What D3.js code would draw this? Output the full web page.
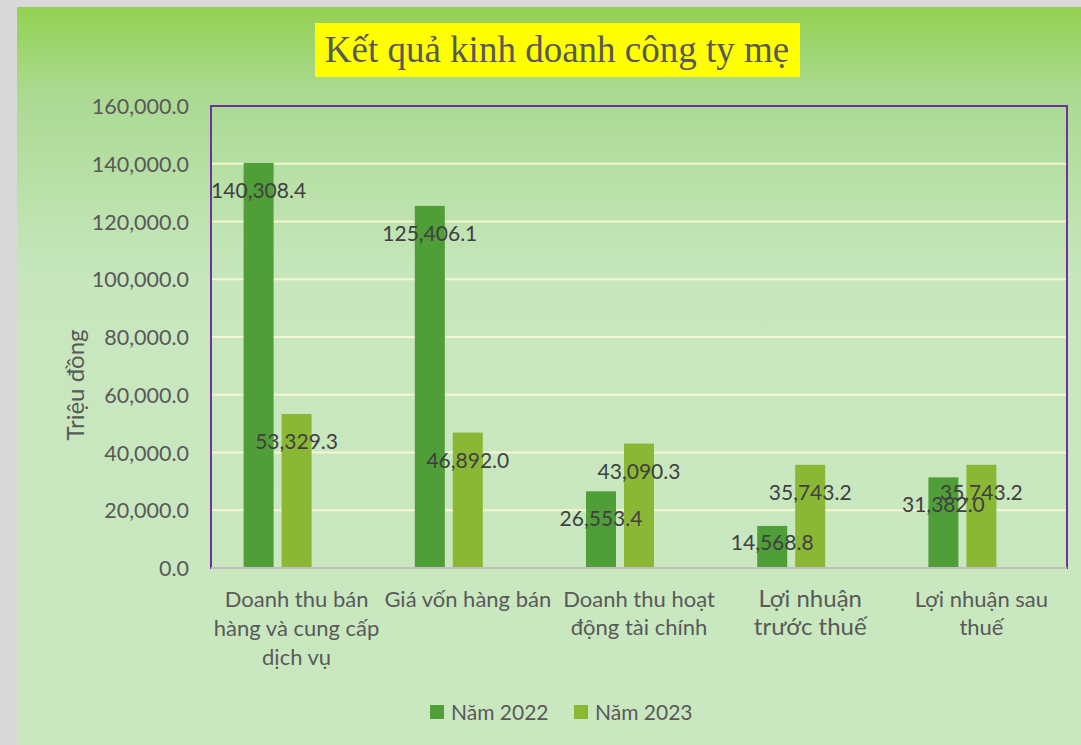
<!DOCTYPE html>
<html>
<head>
<meta charset="utf-8">
<script src="https://cdn.jsdelivr.net/npm/d3@7"></script>
<style>
	body { margin: 0; background: #d9d9d9; }
	text { font-family: Lato, "Noto Sans", sans-serif; }
</style>
</head>
<body>
<div id="chart"></div>
<script>
var categories = [
	"Doanh thu bán\nhàng và cung cấp\ndịch vụ",
	"Giá vốn hàng bán",
	"Doanh thu hoạt\nđộng tài chính",
	"Lợi nhuận\ntrước thuế",
	"Lợi nhuận sau\nthuế"
];
var seriesNames = ["Năm 2022", "Năm 2023"];
var values2022 = [140308.4, 125406.1, 26553.4, 14568.8, 31382.0];
var values2023 = [53329.3, 46892.0, 43090.3, 35743.2, 35743.2];
var yTicks = [0, 20000, 40000, 60000, 80000, 100000, 120000, 140000, 160000];

var W = 1081, H = 745;
var margin = {top: 106, right: 14, left: 211};
var plotBottom = 568;
var colors = ["#509e37", "#8ab834"];

var svg = d3.select("#chart").append("svg")
	.attr("width", W)
	.attr("height", H);

// background with gradient
var grad = svg.append("defs").append("linearGradient")
	.attr("id", "bg").attr("x1", 0).attr("y1", 0).attr("x2", 0).attr("y2", 1);
grad.append("stop").attr("offset", "0%").attr("stop-color", "#93d152");
grad.append("stop").attr("offset", "12%").attr("stop-color", "#abda93");
grad.append("stop").attr("offset", "38%").attr("stop-color", "#c8e7bf");
grad.append("stop").attr("offset", "100%").attr("stop-color", "#c9e8c0");

svg.append("rect").attr("x", 0).attr("y", 0).attr("width", W).attr("height", H).attr("fill", "#d9d9d9");
svg.append("rect").attr("x", 17).attr("y", 7).attr("width", W - 17).attr("height", H - 7).attr("fill", "url(#bg)");

var x0 = margin.left, x1 = W - margin.right;
var yTop = margin.top;

var x = d3.scaleBand().domain(categories).range([x0, x1]);
// 3 slots per group, the last one is empty in the original chart
var xInner = d3.scaleBand().domain([0, 1, 2]).range([0, 106]).paddingInner(0.21);
var groupOffset = (x.bandwidth() - 106) / 2;

var y = d3.scaleLinear().domain([0, 160000]).range([plotBottom, yTop]);

// gridlines
svg.append("g").selectAll("line")
	.data(yTicks.slice(1))
	.enter().append("line")
		.attr("x1", x0).attr("x2", x1)
		.attr("y1", function(d) { return y(d); })
		.attr("y2", function(d) { return y(d); })
		.attr("stroke", "#f6f7d2")
		.attr("stroke-width", 2);

// plot area border
svg.append("rect")
	.attr("x", x0).attr("y", yTop)
	.attr("width", x1 - x0).attr("height", plotBottom - yTop)
	.attr("fill", "none")
	.attr("stroke", "#7030a0")
	.attr("stroke-width", 2);

// y axis labels
var yAxis = d3.axisLeft(y).tickValues(yTicks).tickSize(0).tickPadding(0)
	.tickFormat(d3.format(",.1f"));
var gy = svg.append("g").attr("transform", "translate(189,0)").call(yAxis);
gy.select(".domain").remove();
gy.selectAll("text")
	.attr("fill", "#595959")
	.style("font-size", "21.5px")
	.attr("dy", "0.35em");

// bars
var series = [values2022, values2023];
series.forEach(function(vals, s) {
	svg.append("g").selectAll("rect")
		.data(vals)
		.enter().append("rect")
			.attr("x", function(d, i) { return x(categories[i]) + groupOffset + xInner(s); })
			.attr("y", function(d) { return y(d); })
			.attr("width", xInner.bandwidth())
			.attr("height", function(d) { return y(0) - y(d); })
			.attr("fill", colors[s]);
});

// category axis line
svg.append("line")
	.attr("x1", x0).attr("x2", x1)
	.attr("y1", plotBottom).attr("y2", plotBottom)
	.attr("stroke", "#bfbfbf").attr("stroke-width", 2);

// data labels
var format = d3.format(",.1f");
series.forEach(function(vals, s) {
	svg.append("g").selectAll("text")
		.data(vals)
		.enter().append("text")
			.attr("x", function(d, i) { return x(categories[i]) + groupOffset + xInner(s) + xInner.bandwidth() / 2; })
			.attr("y", function(d) { return Math.min(y(d) + 35, y(0) - 18); })
			.attr("text-anchor", "middle")
			.attr("fill", "#404040")
			.style("font-size", "21px")
			.text(format);
});

// category labels
var catSizes = [22, 22, 22, 24, 22];
var catG = svg.append("g").selectAll("text")
	.data(categories)
	.enter().append("text")
		.attr("text-anchor", "middle")
		.attr("fill", "#595959")
		.style("font-size", function(d, i) { return catSizes[i] + "px"; });
catG.each(function(d, i) {
	var t = d3.select(this);
	var cx = x(d) + x.bandwidth() / 2;
	d.split("\n").forEach(function(line, k) {
		t.append("tspan")
			.attr("x", cx)
			.attr("y", 607 + k * (i === 0 ? 29 : 27.5))
			.text(line);
	});
});

// y axis title
svg.append("text")
	.attr("transform", "translate(84,385) rotate(-90)")
	.attr("text-anchor", "middle")
	.attr("fill", "#595959")
	.style("font-size", "24px")
	.text("Triệu đồng");

// title
svg.append("rect")
	.attr("x", 315).attr("y", 23).attr("width", 485).attr("height", 54)
	.attr("fill", "#ffff00");
svg.append("text")
	.attr("x", 557).attr("y", 62)
	.attr("text-anchor", "middle")
	.attr("fill", "#595959")
	.style("font-family", "'Liberation Serif', 'Times New Roman', serif")
	.style("font-size", "37px")
	.text("Kết quả kinh doanh công ty mẹ");

// legend
var legend = svg.append("g").selectAll("g")
	.data(seriesNames)
	.enter().append("g")
		.attr("transform", function(d, i) { return "translate(" + (430 + i * 144) + ",705)"; });
legend.append("rect")
	.attr("width", 14).attr("height", 14)
	.attr("fill", function(d, i) { return colors[i]; });
legend.append("text")
	.attr("x", 21).attr("y", 14.5)
	.attr("fill", "#595959")
	.style("font-size", "21px")
	.text(function(d) { return d; });
</script>
</body>
</html>
